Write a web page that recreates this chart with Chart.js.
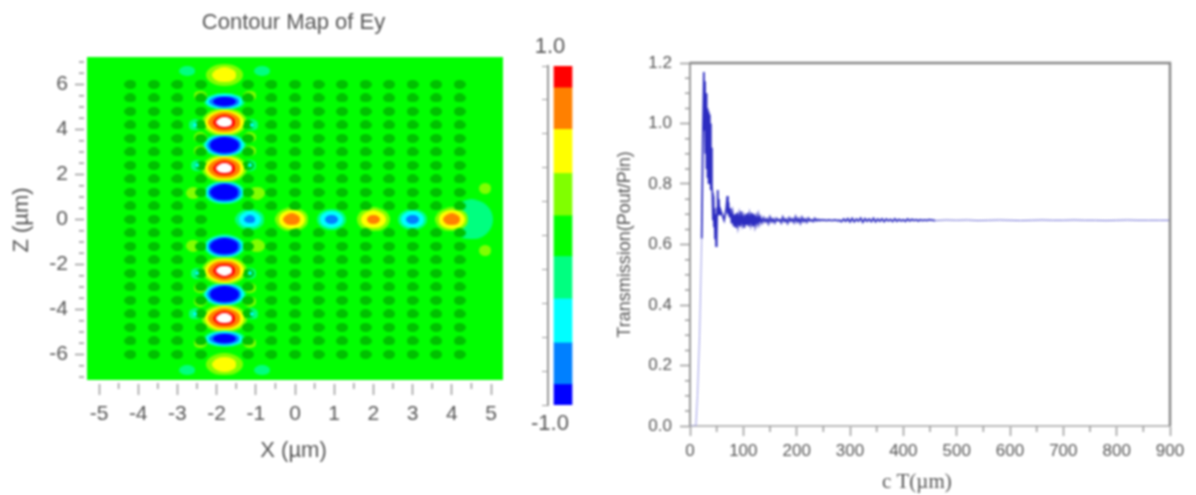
<!DOCTYPE html>
<html>
<head>
<meta charset="utf-8">
<title>Contour Map of Ey</title>
<script src="https://cdn.jsdelivr.net/npm/chart.js@4"></script>
<style>
html, body { margin: 0; background: #fff; overflow: hidden; }
canvas { position: absolute; top: 0; filter: blur(1px); }
#contourChart { left: 0; }
#barChart { left: 522px; }
#lineChart { left: 600px; }
</style>
</head>
<body>
<canvas id="contourChart" width="520" height="470"></canvas>
<canvas id="barChart" width="60" height="445"></canvas>
<canvas id="lineChart" width="596" height="495"></canvas>
<script>
// air holes of the crystal
const holeX = [-4.2, -3.6, -3.0, -2.4, -1.2, -0.6, 0, 0.6, 1.2, 1.8, 2.4, 3.0, 3.6, 4.2];
const holeZ = [6, 5.4, 4.8, 4.2, 3.6, 3, 2.4, 1.8, 1.2, 0.6, 0, -0.6, -1.2, -1.8, -2.4, -3, -3.6, -4.2, -4.8, -5.4, -6];

// field peaks: centre (um), peak Ey, outer contour size (um)
const peakX = [-1.8, -1.8, -1.8, -1.8, -1.8, -1.8, -1.8, -1.8, -1.8, -1.8, -1.8, -1.8,
    -1.15, -0.08, 0.93, 2.0, 3.0, 4.0, 4.5,
    -2.75, -0.84, -2.75, -0.84, 4.85, 4.85,
    -2.42, -1.15, -2.55, -1.1, -2.42, -1.15, -2.42, -1.15, -2.5, -1.15, -2.6, -0.97,
    -2.42, -1.15, -2.55, -1.1, -2.42, -1.15, -2.42, -1.15, -2.5, -1.15, -2.6, -0.97];
const peakZ = [6.42, 5.24, 4.32, 3.3, 2.27, 1.2, -1.2, -2.27, -3.33, -4.4, -5.3, -6.44,
    0, 0, 0, 0, 0, 0, 0,
    6.6, 6.6, -6.7, -6.7, 1.38, -1.38,
    5.5, 5.5, 4.2, 4.2, 3.65, 3.65, 3.05, 3.05, 2.4, 2.4, 1.17, 1.17,
    -5.5, -5.5, -4.2, -4.2, -3.65, -3.65, -3.05, -3.05, -2.4, -2.4, -1.17, -1.17];
const peakValue = [0.55, -1.2, 1.12, -1.5, 1.12, -1.5, -1.5, 1.12, -1.5, 1.12, -1.2, 0.55,
    -0.72, 0.8, -0.75, 0.72, -0.75, 0.8, -0.3,
    -0.3, -0.3, -0.3, -0.3, 0.3, 0.3,
    0.3, 0.3, -0.4, -0.4, 0.3, 0.3, 0.3, 0.3, -0.4, -0.4, 0.35, 0.35,
    0.3, 0.3, -0.4, -0.4, 0.3, 0.3, 0.3, 0.3, -0.4, -0.4, 0.35, 0.35];
const peakWide = [0.95, 1.05, 1.15, 1.1, 1.15, 1.05, 1.05, 1.15, 1.1, 1.15, 1.05, 0.95,
    0.75, 0.85, 0.75, 0.85, 0.75, 0.85, 1.1,
    0.4, 0.4, 0.4, 0.4, 0.3, 0.3,
    0.32, 0.32, 0.32, 0.32, 0.32, 0.32, 0.32, 0.32, 0.32, 0.32, 0.36, 0.4,
    0.32, 0.32, 0.32, 0.32, 0.32, 0.32, 0.32, 0.32, 0.32, 0.32, 0.36, 0.4];
const peakTall = [1.0, 0.75, 1.25, 1.05, 1.25, 1.05, 1.05, 1.25, 1.05, 1.25, 0.75, 1.0,
    0.95, 1.05, 0.95, 1.05, 0.95, 1.05, 1.8,
    0.45, 0.45, 0.45, 0.45, 0.5, 0.5,
    0.45, 0.45, 0.5, 0.5, 0.45, 0.45, 0.45, 0.45, 0.5, 0.5, 0.55, 0.6,
    0.45, 0.45, 0.5, 0.5, 0.45, 0.45, 0.45, 0.45, 0.5, 0.5, 0.55, 0.6];

// colour bar bands, top to bottom
const bandHigh = [1, 0.875, 0.63, 0.37, 0.12, -0.12, -0.37, -0.63, -0.875];
const bandLow = [0.875, 0.63, 0.37, 0.12, -0.12, -0.37, -0.63, -0.875, -1];
const bandColors = ['#ff0000', '#ff8000', '#ffff00', '#80ff00', '#00ff00', '#00ff80', '#00ffff', '#0080ff', '#0000ff'];

const xTicks = [-5, -4, -3, -2, -1, 0, 1, 2, 3, 4, 5];
const xMinor = [-4.5, -3.5, -2.5, -1.5, -0.5, 0.5, 1.5, 2.5, 3.5, 4.5];
const zTicks = [-6, -4, -2, 0, 2, 4, 6];
const zMinor = [-7, -6.5, -5.5, -5, -4.5, -3.5, -3, -2.5, -1.5, -1, -0.5, 0.5, 1, 1.5, 2.5, 3, 3.5, 4.5, 5, 5.5, 6.5, 7];

// transmission curve
const timeX = [0, 11, 14, 18, 22, 24, 26,
    27, 28, 29, 30, 31, 32, 33, 34, 35, 36, 37, 38, 39, 40,
    41, 42, 43, 44, 45, 46, 47, 48, 49, 50,
    51, 52, 53, 54, 55, 56, 57, 58,
    60, 62, 64, 66, 68, 70, 71, 72, 74, 76, 78, 80,
    82, 84, 86, 88, 90, 92, 94, 96, 98, 100, 102, 104, 106, 108, 110, 112, 114, 116, 118, 120, 122, 124, 126, 128, 130,
    132, 135, 138, 141, 144, 147, 150, 153, 156, 159, 162, 165, 168, 171, 174, 177, 180, 183, 186, 189,
    192, 195, 198, 201, 204, 207, 210, 213, 216, 219, 222, 225, 228, 231, 234, 237, 240, 243, 246, 249,
    252, 256, 260, 264, 268, 272, 276, 280, 284, 288, 292, 296, 300,
    304, 308, 312, 316, 320, 324, 328, 332, 336, 340, 344, 348, 352, 356, 360, 364, 368, 372, 376,
    380, 384, 388, 392, 396, 400, 404, 408, 412, 416, 420, 424, 428, 432, 436, 440, 444, 448,
    460, 480, 500, 520, 540, 560, 580, 600, 620, 640, 660, 680, 700, 720, 740, 760, 780, 800, 820, 840, 860, 880, 900];
const transmission = [0, 0, 0.1, 0.3, 0.62, 0.95, 1.17,
    0.98, 1.14, 0.9, 1.1, 0.85, 1.05, 0.82, 1.04, 0.8, 1.03, 0.8, 1.0, 0.78, 0.92,
    0.79, 0.77, 0.68, 0.76, 0.66, 0.72, 0.62, 0.7, 0.595, 0.62,
    0.72, 0.78, 0.7, 0.75, 0.71, 0.72, 0.7, 0.71,
    0.7, 0.69, 0.68, 0.7, 0.72, 0.76, 0.7, 0.74, 0.69, 0.72, 0.67, 0.7,
    0.66, 0.7, 0.655, 0.705, 0.665, 0.695, 0.66, 0.71, 0.67, 0.69, 0.655, 0.7, 0.665, 0.705, 0.66, 0.695, 0.67, 0.705, 0.66, 0.7, 0.665, 0.69, 0.67, 0.695, 0.672,
    0.69, 0.672, 0.688, 0.675, 0.685, 0.67, 0.69, 0.675, 0.684, 0.672, 0.686, 0.678, 0.683, 0.672, 0.69, 0.676, 0.684, 0.671, 0.688, 0.677,
    0.685, 0.673, 0.691, 0.675, 0.686, 0.671, 0.689, 0.676, 0.684, 0.674, 0.687, 0.678, 0.682, 0.676, 0.686, 0.678, 0.683, 0.679, 0.682, 0.68,
    0.681, 0.679, 0.681, 0.68, 0.68, 0.681, 0.679, 0.68, 0.676, 0.684, 0.677, 0.685, 0.675,
    0.686, 0.675, 0.684, 0.677, 0.687, 0.674, 0.685, 0.677, 0.684, 0.676, 0.686, 0.675, 0.684, 0.677, 0.685, 0.676, 0.684, 0.678, 0.683,
    0.676, 0.685, 0.677, 0.683, 0.678, 0.682, 0.677, 0.684, 0.678, 0.683, 0.679, 0.682, 0.678, 0.682, 0.679, 0.681, 0.679, 0.682,
    0.679, 0.681, 0.68, 0.681, 0.679, 0.68, 0.681, 0.68, 0.679, 0.68, 0.681, 0.68, 0.68, 0.681, 0.68, 0.68, 0.679, 0.68, 0.681, 0.68, 0.68, 0.68, 0.68];
const timeTicks = [0, 100, 200, 300, 400, 500, 600, 700, 800, 900];
const timeMinor = [50, 150, 250, 350, 450, 550, 650, 750, 850];
const transTicks = [0, 0.2, 0.4, 0.6, 0.8, 1.0, 1.2];
const transMinor = [0.05, 0.1, 0.15, 0.25, 0.3, 0.35, 0.45, 0.5, 0.55, 0.65, 0.7, 0.75, 0.85, 0.9, 0.95, 1.05, 1.1, 1.15];

const sans = 'Liberation Sans, Arial, sans-serif';
const textColor = '#555';
const axisColor = '#999';

Chart.defaults.animation = false;
Chart.defaults.plugins.legend.display = false;
Chart.defaults.plugins.tooltip.enabled = false;

// short ticks between the labelled ones
const minorTicks = {
    id: 'minorTicks',
    afterDraw(chart, args, opts) {
        const c = chart.ctx, a = chart.chartArea;
        c.save();
        c.strokeStyle = axisColor;
        c.lineWidth = 1.5;
        c.beginPath();
        (opts.x || []).forEach(v => {
            const px = chart.scales.x.getPixelForValue(v);
            c.moveTo(px, a.bottom);
            c.lineTo(px, a.bottom + 6);
        });
        (opts.y || []).forEach(v => {
            const py = chart.scales.y.getPixelForValue(v);
            c.moveTo(a.left, py);
            c.lineTo(a.left - 5, py);
        });
        c.stroke();
        c.restore();
    }
};

// green zero level behind the contours, a little inside the axes
const fieldBackground = {
    id: 'fieldBackground',
    beforeDatasetsDraw(chart) {
        const a = chart.chartArea;
        chart.ctx.fillStyle = '#00ff00';
        chart.ctx.fillRect(a.left + 3, a.top, a.right - a.left - 3, a.bottom - a.top - 3);
    }
};

const plotFrame = {
    id: 'plotFrame',
    afterDraw(chart) {
        const c = chart.ctx, a = chart.chartArea;
        c.save();
        c.strokeStyle = '#888';
        c.lineWidth = 2.5;
        c.beginPath();
        c.moveTo(a.left, a.top);
        c.lineTo(a.right, a.top);
        c.lineTo(a.right, a.bottom);
        c.stroke();
        c.restore();
    }
};

// filled ellipse used as a point image
const sprites = {};
function ellipseSprite(w, h, color) {
    w = Math.max(2, Math.round(w));
    h = Math.max(2, Math.round(h));
    const key = w + '_' + h + '_' + color;
    if (!sprites[key]) {
        const s = document.createElement('canvas');
        s.width = w;
        s.height = h;
        const c = s.getContext('2d');
        c.fillStyle = color;
        c.beginPath();
        c.ellipse(w / 2, h / 2, w / 2, h / 2, 0, 0, Math.PI * 2);
        c.fill();
        sprites[key] = s;
    }
    return sprites[key];
}

function ellipseStyle(color) {
    return function (ctx) {
        const sx = ctx.chart.scales.x, sy = ctx.chart.scales.y;
        const raw = ctx.raw;
        if (!raw) return 'circle';
        const w = Math.abs(sx.getPixelForValue(raw.w) - sx.getPixelForValue(0));
        const h = Math.abs(sy.getPixelForValue(raw.h) - sy.getPixelForValue(0));
        return ellipseSprite(w, h, color);
    };
}

// one scatter dataset per contour level, outer levels underneath
function levelDataset(level, color, order) {
    const points = [];
    peakValue.forEach((p, i) => {
        if (p * level > 0 && Math.abs(p) >= Math.abs(level)) {
            const base = level > 0 ? 0.12 : -0.12;
            const frac = Math.sqrt(1 - (level - base) / (p - base));
            points.push({ x: peakX[i], y: peakZ[i], w: peakWide[i] * frac, h: peakTall[i] * frac });
        }
    });
    return { data: points, pointStyle: ellipseStyle(color), order: order, clip: false };
}

const holePoints = [];
holeZ.forEach(z => {
    holeX.forEach(x => {
        holePoints.push({ x: x, y: z, w: 0.3, h: 0.38 });
    });
});
// no holes along the horizontal waveguide
const latticePoints = holePoints.filter(p => !(p.y === 0 && p.x > -1.8));

new Chart(document.getElementById('contourChart'), {
    type: 'scatter',
    data: {
        datasets: [
            levelDataset(1.0, '#ffffff', 1),
            levelDataset(0.875, '#ff0000', 2),
            levelDataset(0.63, '#ff8000', 3),
            levelDataset(0.37, '#ffff00', 4),
            levelDataset(-0.875, '#0000ff', 5),
            levelDataset(-0.63, '#0080ff', 6),
            levelDataset(-0.37, '#00ffff', 7),
            { data: latticePoints, pointStyle: ellipseStyle('#00c000'), order: 8 },
            levelDataset(0.12, '#80ff00', 9),
            levelDataset(-0.12, '#00ff80', 10)
        ]
    },
    options: {
        responsive: false,
        layout: { padding: { right: 17 } },
        plugins: {
            title: {
                display: true,
                fullSize: false,
                text: 'Contour Map of Ey',
                color: textColor,
                font: { family: sans, size: 22, weight: 'normal' },
                padding: { top: 10, bottom: 20.6 }
            },
            minorTicks: { x: xMinor, y: zMinor }
        },
        scales: {
            x: {
                min: -5.383,
                max: 5.306,
                afterFit(s) { s.height = 87; },
                afterBuildTicks(s) { s.ticks = xTicks.map(v => ({ value: v })); },
                border: { color: 'rgba(0,0,0,0)' },
                grid: { drawOnChartArea: false, tickLength: 12, tickColor: axisColor, tickWidth: 1.5 },
                ticks: { color: textColor, font: { family: sans, size: 21 }, padding: 7, maxRotation: 0, autoSkip: false, callback: v => String(v) },
                title: { display: true, text: 'X (µm)', color: textColor, font: { family: sans, size: 22 }, padding: { top: 4, bottom: 5.8 } }
            },
            y: {
                min: -7.27,
                max: 7.22,
                afterFit(s) { s.width = 84; },
                afterBuildTicks(s) { s.ticks = zTicks.map(v => ({ value: v })); },
                border: { color: 'rgba(0,0,0,0)' },
                grid: { drawOnChartArea: false, tickLength: 9, tickColor: axisColor, tickWidth: 1.5 },
                ticks: { color: textColor, font: { family: sans, size: 21 }, padding: 7, autoSkip: false, callback: v => String(v) },
                title: { display: true, text: 'Z (µm)', color: textColor, font: { family: sans, size: 22 }, padding: { top: 8.8, bottom: 4 } }
            }
        }
    },
    plugins: [fieldBackground, minorTicks]
});

new Chart(document.getElementById('barChart'), {
    type: 'bar',
    data: {
        labels: ['Ey'],
        datasets: bandColors.map((color, i) => ({
            data: [[bandLow[i], bandHigh[i]]],
            backgroundColor: color,
            barThickness: 18,
            grouped: false
        }))
    },
    options: {
        responsive: false,
        layout: { padding: { right: 4 } },
        plugins: {
            title: { display: true, text: '1.0', color: textColor, font: { family: sans, size: 22, weight: 'normal' }, padding: { top: 34, bottom: 5.6 } },
            subtitle: { display: true, position: 'bottom', text: '-1.0', color: textColor, font: { family: sans, size: 22 }, padding: { top: 5.8, bottom: 7.8 } }
        },
        scales: {
            x: { display: false },
            y: {
                min: -1,
                max: 1,
                afterFit(s) { s.width = 26; },
                border: { color: axisColor, width: 2 },
                grid: { drawOnChartArea: false, tickLength: 6, tickColor: axisColor },
                ticks: { display: false, stepSize: 0.2 }
            }
        }
    }
});

new Chart(document.getElementById('lineChart'), {
    type: 'scatter',
    data: {
        datasets: [{
            data: timeX.map((t, i) => ({ x: t, y: transmission[i] })),
            showLine: true,
            borderColor: '#2c2cc0',
            borderWidth: 1.8,
            pointRadius: 0,
            segment: {
                // the rising edge and the settled tail are drawn fainter
                borderColor: s => s.p0.parsed.x < 22 ? '#9a9ae6' : (s.p0.parsed.x >= 450 ? '#6a6ad4' : undefined),
                borderWidth: s => (s.p0.parsed.x < 22 || s.p0.parsed.x >= 450) ? 1 : undefined
            }
        }]
    },
    options: {
        responsive: false,
        layout: { padding: { top: 63, right: 26 } },
        plugins: {
            minorTicks: { x: timeMinor, y: transMinor }
        },
        scales: {
            x: {
                min: 0,
                max: 900,
                afterFit(s) { s.height = 69; },
                afterBuildTicks(s) { s.ticks = timeTicks.map(v => ({ value: v })); },
                border: { color: '#bbb', width: 2 },
                grid: { drawOnChartArea: false, tickLength: 10, tickColor: axisColor, tickWidth: 1.5 },
                ticks: { color: textColor, font: { family: sans, size: 17 }, padding: 5, maxRotation: 0, autoSkip: false, callback: v => String(v) },
                title: { display: true, text: 'c T(µm)     ', color: textColor, font: { family: 'Liberation Serif, serif', size: 21 }, padding: { top: 2, bottom: 0 } }
            },
            y: {
                min: 0,
                max: 1.2,
                afterFit(s) { s.width = 90; },
                afterBuildTicks(s) { s.ticks = transTicks.map(v => ({ value: v })); },
                border: { color: axisColor, width: 2 },
                grid: { drawOnChartArea: false, tickLength: 10, tickColor: axisColor, tickWidth: 1.5 },
                ticks: { color: textColor, font: { family: sans, size: 17 }, padding: 8, autoSkip: false, callback: v => v.toFixed(1) },
                title: { display: true, text: 'Transmission(Pout/Pin)', color: textColor, font: { family: sans, size: 18 }, padding: { top: 14, bottom: 4 } }
            }
        }
    },
    plugins: [minorTicks, plotFrame]
});
</script>
</body>
</html>
